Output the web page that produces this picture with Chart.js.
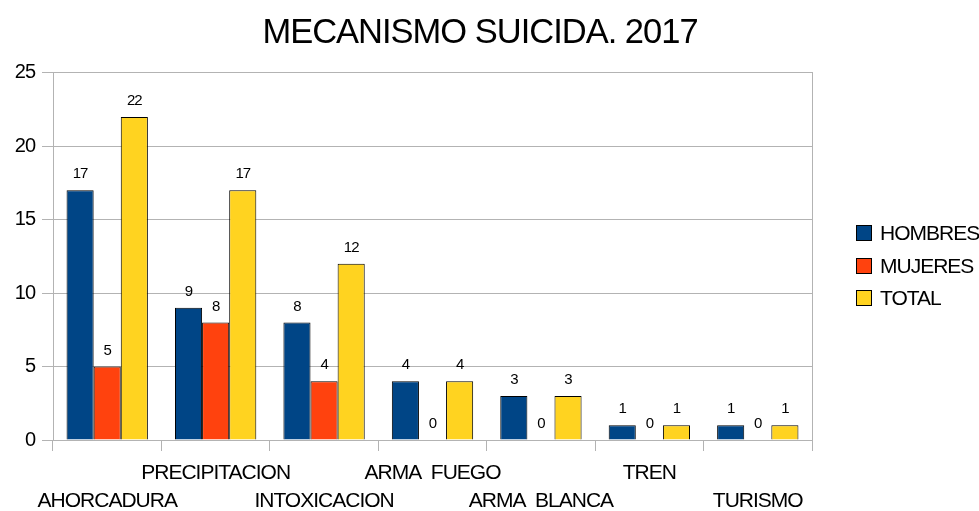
<!DOCTYPE html>
<html>
<head>
<meta charset="utf-8">
<script src="https://cdn.jsdelivr.net/npm/chart.js@4.4.1/dist/chart.umd.min.js"></script>
<style>
  html, body { margin: 0; padding: 0; background: #fff; }
  #wrap { width: 979px; height: 511px; }
</style>
</head>
<body>
<div id="wrap"><canvas id="suicideChart" width="979" height="511"></canvas></div>
<script>
// ========== Data ==========
const categories = ['AHORCADURA', 'PRECIPITACION', 'INTOXICACION', 'ARMA  FUEGO', 'ARMA  BLANCA', 'TREN', 'TURISMO'];
const hombres = [17, 9, 8, 4, 3, 1, 1];
const mujeres = [5, 8, 4, 0, 0, 0, 0];
const total = [22, 17, 12, 4, 3, 1, 1];
const yTicks = [0, 5, 10, 15, 20, 25];

const FONT = "'Liberation Sans', Arial, sans-serif";
const GRID = '#b3b3b3';

// ========== Plugins ==========
// condensed text like the original office rendering
const spacingPlugin = {
    id: 'spacing',
    beforeDraw(chart) { chart.ctx.letterSpacing = '-1px'; },
    afterDraw(chart) { chart.ctx.letterSpacing = '0px'; }
};

const valueLabels = {
    id: 'valueLabels',
    afterDatasetsDraw(chart) {
        const ctx = chart.ctx;
        ctx.save();
        ctx.font = '15px ' + FONT;
        ctx.fillStyle = '#000';
        ctx.textAlign = 'center';
        ctx.textBaseline = 'alphabetic';
        chart.data.datasets.forEach((ds, i) => {
            chart.getDatasetMeta(i).data.forEach((bar, j) => {
                ctx.fillText(String(ds.data[j]), bar.x, bar.y - 12);
            });
        });
        ctx.restore();
    }
};

const sideLegend = {
    id: 'sideLegend',
    afterDraw(chart) {
        const ctx = chart.ctx;
        const x = chart.chartArea.right + 44;
        const rows = [233, 266, 298];
        ctx.save();
        ctx.letterSpacing = '-1px';
        ctx.font = '21px ' + FONT;
        ctx.textBaseline = 'middle';
        ctx.textAlign = 'left';
        chart.data.datasets.forEach((ds, i) => {
            const y = rows[i];
            ctx.fillStyle = ds.backgroundColor;
            ctx.fillRect(x, y - 8, 16, 16);
            ctx.strokeStyle = '#000';
            ctx.lineWidth = 1;
            ctx.strokeRect(x + 0.5, y - 7.5, 15, 15);
            ctx.fillStyle = '#000';
            ctx.fillText(ds.label, x + 24, y + 1);
        });
        ctx.restore();
    }
};

// ========== Chart ==========
function generateChart() {
    const ctx = document.getElementById('suicideChart').getContext('2d');
    new Chart(ctx, {
        type: 'bar',
        data: {
            labels: categories,
            datasets: [
                { label: 'HOMBRES', data: hombres, backgroundColor: '#004586' },
                { label: 'MUJERES', data: mujeres, backgroundColor: '#ff420e' },
                { label: 'TOTAL', data: total, backgroundColor: '#ffd320' }
            ].map(ds => Object.assign(ds, {
                borderColor: '#000',
                borderWidth: 1,
                categoryPercentage: 0.75,
                barPercentage: 1
            }))
        },
        options: {
            responsive: false,
            animation: false,
            layout: { padding: { left: 0, right: 19, top: 0, bottom: 0 } },
            scales: {
                x: {
                    grid: { display: true, drawOnChartArea: false, offset: true, color: GRID, tickLength: 11 },
                    border: { color: GRID },
                    ticks: {
                        color: '#000',
                        font: { family: FONT, size: 21, lineHeight: 1.35 },
                        padding: 8,
                        maxRotation: 0,
                        autoSkip: false,
                        callback: (v, i) => i % 2 === 0 ? ['', categories[i]] : [categories[i], '']
                    },
                    afterFit: s => { s.height = 71; }
                },
                y: {
                    min: 0,
                    max: 25,
                    afterBuildTicks: s => { s.ticks = yTicks.map(v => ({ value: v })); },
                    grid: { color: GRID, tickLength: 11 },
                    border: { color: GRID },
                    ticks: { color: '#000', font: { family: FONT, size: 20 }, padding: 7 },
                    afterFit: s => { s.width = 53; }
                },
                yRight: {
                    position: 'right',
                    display: true,
                    grid: { drawOnChartArea: false, drawTicks: false },
                    border: { color: GRID },
                    ticks: { display: false },
                    afterFit: s => { s.width = 148; }
                }
            },
            plugins: {
                legend: { display: false },
                tooltip: { enabled: false },
                title: {
                    display: true,
                    text: 'MECANISMO SUICIDA. 2017',
                    color: '#000',
                    font: { family: FONT, size: 34.5, weight: 'normal', lineHeight: 1.2 },
                    padding: { top: 13, bottom: 18.5 }
                }
            }
        },
        plugins: [spacingPlugin, valueLabels, sideLegend]
    });
}

document.addEventListener('DOMContentLoaded', generateChart);
</script>
</body>
</html>
